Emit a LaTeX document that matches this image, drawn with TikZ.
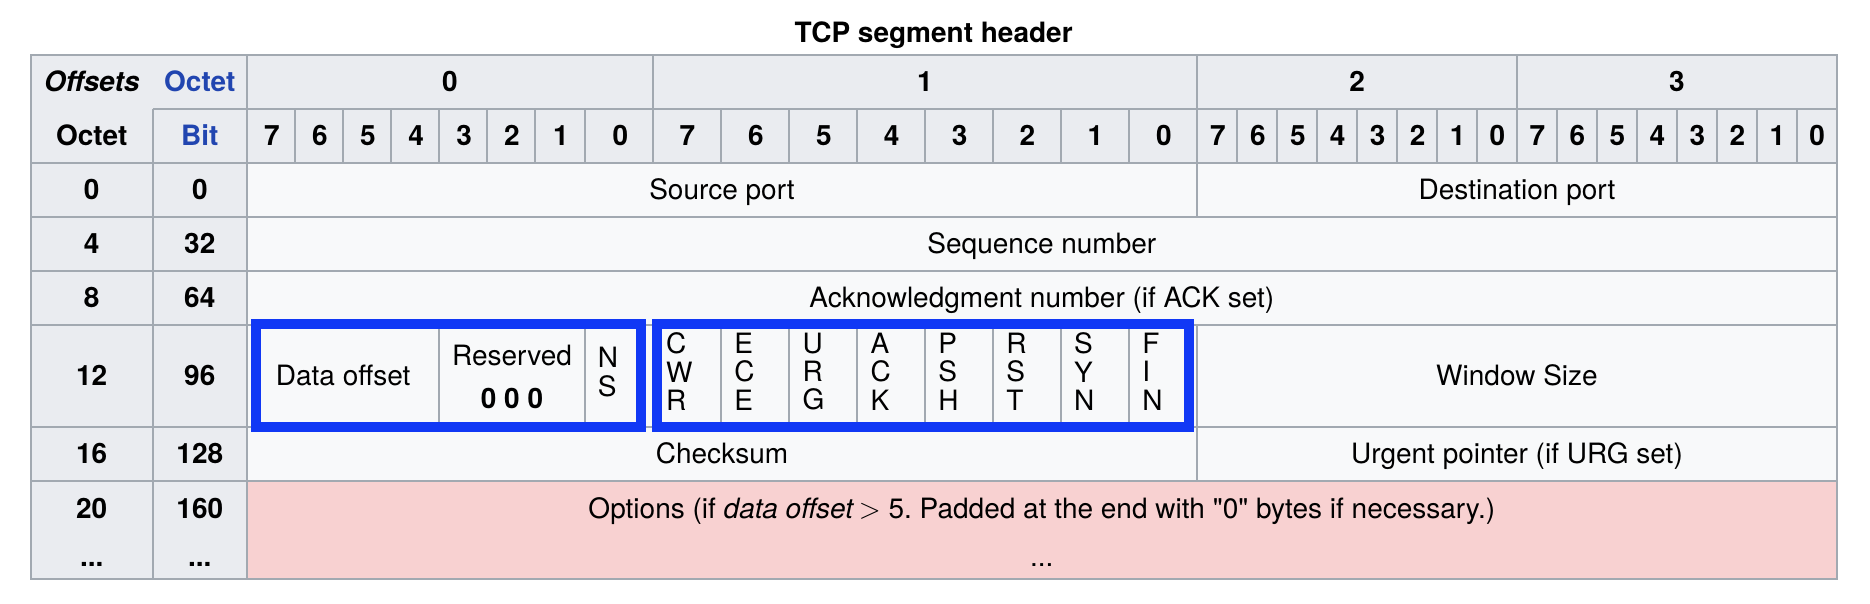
\documentclass[tikz,border=0pt]{standalone}
\usepackage{fontspec}
\setmainfont{TeX Gyre Heros}
\frenchspacing

\definecolor{gridline}{HTML}{A2A9B1}
\definecolor{headfill}{HTML}{EAECF0}
\definecolor{cellfill}{HTML}{F8F9FA}
\definecolor{optfill}{HTML}{F8D1D1}
\definecolor{linkblue}{HTML}{2145B0}
\definecolor{boxblue}{HTML}{1138F5}

\tikzset{
  txt/.style={inner sep=0pt, font=\fontsize{14}{14.15}\selectfont, text height=10pt, text depth=0pt},
  head/.style={txt, font=\fontsize{14}{14.15}\selectfont\bfseries},
  flag/.style={inner sep=0pt, anchor=west, align=left, font=\fontsize{14}{14.15}\selectfont},
  rule/.style={draw=gridline, line width=1pt},
  frame/.style={draw=boxblue, line width=5pt},
}

\begin{document}
\begin{tikzpicture}[x=0.5pt, y=-0.5pt]
  \useasboundingbox (0,0) rectangle (1870,604);

  \node[head] (title) at (933.7,33) {TCP segment header};

  % cell backgrounds
  \fill[headfill] (30.8,55) rectangle (1836.7,163);
  \fill[headfill] (30.8,163) rectangle (246.9,578.7);
  \fill[cellfill] (246.9,163) rectangle (1836.7,481);
  \fill[optfill] (246.9,481) rectangle (1836.7,578.7);

  % table rules
  \draw[rule] (152.7,108.7) -- (1836.7,108.7);
  \foreach \y in {163, 217, 271, 324.7, 427, 481}
    \draw[rule] (30.8,\y) -- (1836.7,\y);
  \draw[rule] (152.7,108.7) -- (152.7,578.7);
  \draw[rule] (246.9,55) -- (246.9,578.7);
  \foreach \x in {652.7, 1197.3, 1517}
    \draw[rule] (\x,55) -- (\x,163);
  \foreach \x in {295.1, 342.9, 391.1, 439.3, 487.1, 534.8, 584.8,
                  721, 789.3, 857.1, 925, 992.9, 1060.7, 1129,
                  1237.3, 1277.3, 1317.2, 1357.2, 1397.1, 1437.1, 1477,
                  1557, 1597, 1637, 1677, 1717, 1757, 1797}
    \draw[rule] (\x,108.7) -- (\x,163);
  \draw[rule] (1197.3,163) -- (1197.3,217);
  \foreach \x in {439.3, 584.8, 652.7, 721, 789.3, 857.1, 925, 992.9, 1060.7, 1129, 1197.3}
    \draw[rule] (\x,324.7) -- (\x,427);
  \draw[rule] (1197.3,427) -- (1197.3,481);
  \draw[rule] (30.8,55) rectangle (1836.7,578.7);

  % header
  \node[head, font=\fontsize{14}{14.15}\selectfont\bfseries\itshape] (offsets) at (91.7,81.9) {Offsets};
  \node[head, text=linkblue] (octethead) at (199.8,81.9) {Octet};
  \node[head] (octetcol) at (91.7,135.9) {Octet};
  \node[head, text=linkblue] (bithead) at (199.8,135.9) {Bit};
  \foreach \x [count=\i from 0] in {449.8, 925, 1357.2, 1677}
    \node[head] (octet-\i) at (\x,81.9) {\i};
  \foreach \x [count=\i] in {272, 320, 368, 416.2, 464.2, 512, 561, 620.5,
                             687.5, 755.8, 823.8, 891.7, 959.6, 1027.4, 1095.5, 1163.8,
                             1217.8, 1257.8, 1297.8, 1337.7, 1377.7, 1417.6, 1457.6, 1497.5,
                             1537.5, 1577.5, 1617.5, 1657.5, 1697.5, 1737.5, 1777.5, 1817.2} {
    \pgfmathtruncatemacro\b{7-mod(\i-1,8)}
    \node[head] (bit-\i) at (\x,135.9) {\b};
  }

  % offsets
  \foreach \y/\oc/\bt [count=\i] in {190/0/0, 244/4/32, 297.9/8/64, 375.9/12/96, 454/16/128, 508/20/160} {
    \node[head] (oct-\i) at (91.7,\y) {\oc};
    \node[head] (bits-\i) at (199.8,\y) {\bt};
  }
  \node[head] (octmore) at (91.7,556) {...};
  \node[head] (bitsmore) at (199.8,556) {...};

  % fields
  \node[txt] (srcport) at (722,190) {Source port};
  \node[txt] (dstport) at (1517,190) {Destination port};
  \node[txt] (seqnum) at (1041.8,244) {Sequence number};
  \node[txt] (acknum) at (1041.8,297.9) {Acknowledgment number (if ACK set)};
  \node[txt] (dataoff) at (343.1,375.9) {Data offset};
  \node[txt] (reserved) at (512,355) {Reserved};
  \node[head] (resbits) at (512,398.3) {0 0 0};
  \node[flag] (ns) at (597.5,372) {N\\S};
  \foreach \x/\a/\b/\c [count=\i] in {665.7/C/W/R, 734/E/C/E, 802.3/U/R/G, 870.1/A/C/K,
                                      938/P/S/H, 1005.9/R/S/T, 1073.7/S/Y/N, 1142/F/I/N}
    \node[flag] (flag-\i) at (\x,371.7) {\a\\\b\\\c};
  \node[txt] (window) at (1517,375.9) {Window Size};
  \node[txt] (checksum) at (722,454) {Checksum};
  \node[txt] (urgent) at (1517,454) {Urgent pointer (if URG set)};
  \node[txt] (options) at (1041.8,508) {Options (if \textit{data offset}\,$>$ 5. Padded at the end with \textquotedbl 0\textquotedbl{} bytes if necessary.)};
  \node[txt] (optmore) at (1041.8,556) {...};

  % flag groups
  \draw[frame] (256,324.2) rectangle (641,426.8);
  \draw[frame] (657.2,324.2) rectangle (1189,426.8);
\end{tikzpicture}
\end{document}
